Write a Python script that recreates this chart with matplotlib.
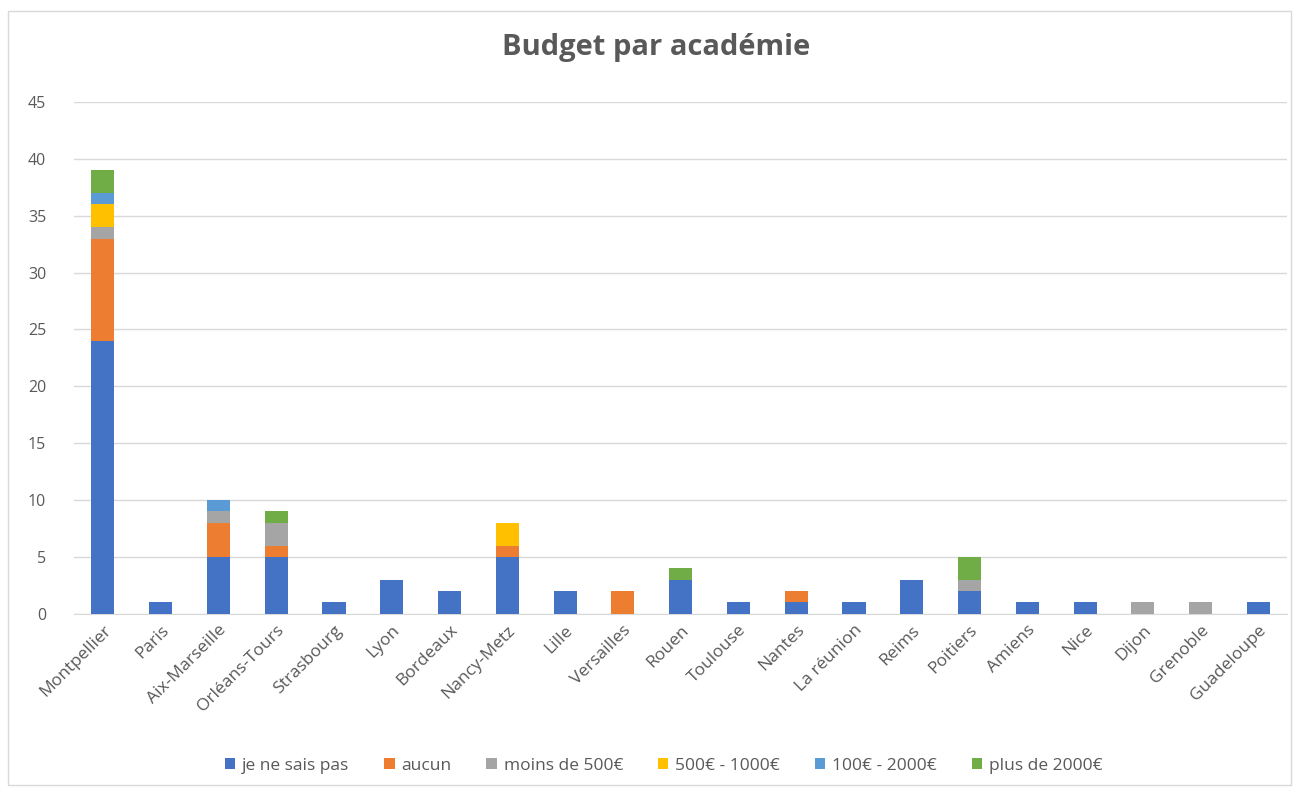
import matplotlib
matplotlib.use("Agg")
import matplotlib.pyplot as plt
import numpy as np

plt.rcParams['font.family'] = ['Open Sans', 'DejaVu Sans']

academies = ["Montpellier", "Paris", "Aix-Marseille", "Orléans-Tours", "Strasbourg",
             "Lyon", "Bordeaux", "Nancy-Metz", "Lille", "Versailles", "Rouen",
             "Toulouse", "Nantes", "La réunion", "Reims", "Poitiers", "Amiens",
             "Nice", "Dijon", "Grenoble", "Guadeloupe"]

je_ne_sais_pas = [24, 1, 5, 5, 1, 3, 2, 5, 2, 0, 3, 1, 1, 1, 3, 2, 1, 1, 0, 0, 1]
aucun          = [9, 0, 3, 1, 0, 0, 0, 1, 0, 2, 0, 0, 1, 0, 0, 0, 0, 0, 0, 0, 0]
moins_500      = [1, 0, 1, 2, 0, 0, 0, 0, 0, 0, 0, 0, 0, 0, 0, 1, 0, 0, 1, 1, 0]
de_500_1000    = [2, 0, 0, 0, 0, 0, 0, 2, 0, 0, 0, 0, 0, 0, 0, 0, 0, 0, 0, 0, 0]
de_100_2000    = [1, 0, 1, 0, 0, 0, 0, 0, 0, 0, 0, 0, 0, 0, 0, 0, 0, 0, 0, 0, 0]
plus_2000      = [2, 0, 0, 1, 0, 0, 0, 0, 0, 0, 1, 0, 0, 0, 0, 2, 0, 0, 0, 0, 0]

series = [
    ("je ne sais pas", je_ne_sais_pas, "#4472C4"),
    ("aucun", aucun, "#ED7D31"),
    ("moins de 500€", moins_500, "#A5A5A5"),
    ("500€ - 1000€", de_500_1000, "#FFC000"),
    ("100€ - 2000€", de_100_2000, "#5B9BD5"),
    ("plus de 2000€", plus_2000, "#70AD47"),
]

fig = plt.figure(figsize=(12.99, 7.91), dpi=100)
ax = fig.add_axes([0.057, 0.224, 0.934, 0.647])

x = np.arange(len(academies))
bottom = np.zeros(len(academies))
for name, vals, col in series:
    ax.bar(x, vals, 0.4, bottom=bottom, color=col, label=name, zorder=3)
    bottom += np.array(vals)

ax.set_xlim(-0.5, len(academies) - 0.5)
ax.set_ylim(0, 45)
ax.set_yticks(range(0, 46, 5))
ax.grid(axis="y", color="#D9D9D9", linewidth=1, zorder=0)
for s in ["top", "right", "left"]:
    ax.spines[s].set_visible(False)
ax.spines["bottom"].set_color("#D9D9D9")
ax.tick_params(axis="both", length=0, labelsize=11.5, colors="#595959")
ax.tick_params(axis="y", pad=20)
ax.tick_params(axis="x", labelsize=12.5, pad=6)
ax.set_xticks(x)
ax.set_xticklabels(academies, rotation=45, ha="right", rotation_mode="anchor")

fig.suptitle("Budget par académie", x=0.505, y=0.958, fontsize=21, fontweight="bold", color="#595959")

fig.legend(loc="center", bbox_to_anchor=(0.511, 0.032), ncol=6, frameon=False,
           fontsize=12.5, handlelength=0.6, handleheight=0.6, columnspacing=2.0,
           handletextpad=0.4, labelcolor="#595959")

# outer frame
fig.patches.append(plt.Rectangle((0.006, 0.008), 0.988, 0.978, transform=fig.transFigure,
                                 fill=False, edgecolor="#D9D9D9", linewidth=1))

plt.savefig("out.png", dpi=100)
